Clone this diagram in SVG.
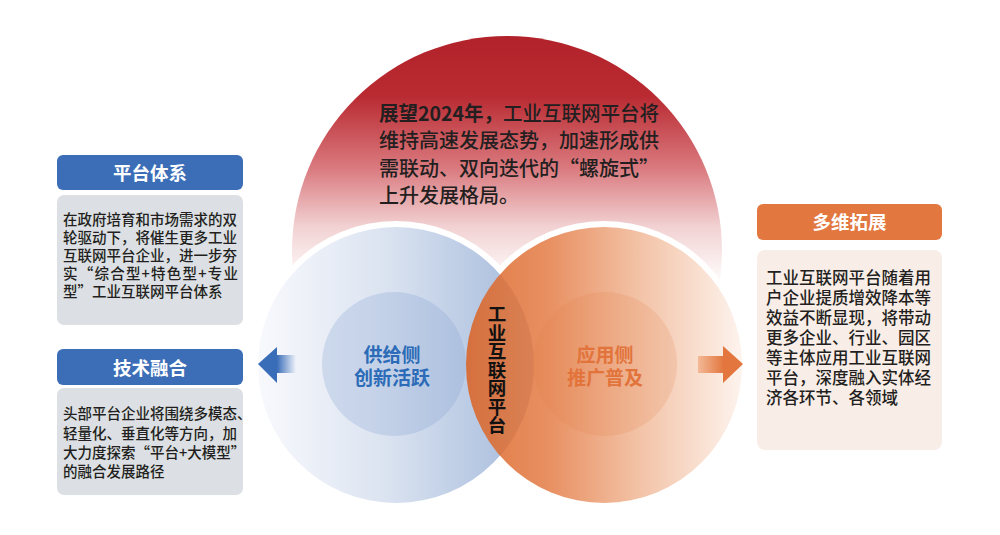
<svg xmlns="http://www.w3.org/2000/svg" width="1000" height="535" viewBox="0 0 1000 535">
<defs>
<style>
text{font-family:"Noto Sans CJK SC","Noto Sans",sans-serif;}
.hdr{font-size:18.5px;font-weight:bold;fill:#ffffff;text-anchor:middle;}
.body{font-size:14.5px;font-weight:500;fill:#231f20;}
.rbody{font-size:16.5px;font-weight:500;fill:#231f20;}
.top{font-size:20px;font-weight:500;fill:#231f20;}
.lbl{font-size:19px;font-weight:bold;text-anchor:middle;}
.vert{font-size:18.5px;font-weight:bold;fill:#111111;writing-mode:vertical-rl;text-orientation:upright;}
</style>
<linearGradient id="gRed" gradientUnits="userSpaceOnUse" x1="0" y1="36" x2="0" y2="275">
<stop offset="0" stop-color="#b1222a"/>
<stop offset="0.25" stop-color="#b92a31"/>
<stop offset="0.55" stop-color="#d9797e"/>
<stop offset="0.8" stop-color="#f2d2d3"/>
<stop offset="1" stop-color="#fdf7f7"/>
</linearGradient>
<linearGradient id="gBlue" gradientUnits="userSpaceOnUse" x1="258" y1="0" x2="534" y2="0">
<stop offset="0" stop-color="#f8f9fd"/>
<stop offset="0.45" stop-color="#dce4f1"/>
<stop offset="1" stop-color="#a3b9db"/>
</linearGradient>
<linearGradient id="gOrange" gradientUnits="userSpaceOnUse" x1="466" y1="0" x2="742" y2="0">
<stop offset="0" stop-color="#df733b"/>
<stop offset="0.3" stop-color="#e78b5b"/>
<stop offset="0.62" stop-color="#f2bfa1"/>
<stop offset="1" stop-color="#fdf3ed"/>
</linearGradient>
<linearGradient id="gArrL" gradientUnits="userSpaceOnUse" x1="277" y1="0" x2="296" y2="0">
<stop offset="0" stop-color="#3a6db8"/>
<stop offset="1" stop-color="#3a6db8" stop-opacity="0"/>
</linearGradient>
<linearGradient id="gArrR" gradientUnits="userSpaceOnUse" x1="698" y1="0" x2="724" y2="0">
<stop offset="0" stop-color="#f3b996"/>
<stop offset="1" stop-color="#e2763e"/>
</linearGradient>
<clipPath id="clipOrange"><circle cx="604" cy="365" r="138"/></clipPath>
</defs>

<g id="outlook">
<circle cx="507" cy="251" r="215" fill="url(#gRed)"/>
<text class="top" x="379" y="121" textLength="280" lengthAdjust="spacingAndGlyphs"><tspan font-weight="bold">展望2024年，</tspan>工业互联网平台将</text>
<text class="top" x="379" y="148.3">维持高速发展态势，加速形成供</text>
<text class="top" x="379" y="175.6">需联动、双向迭代的“螺旋式”</text>
<text class="top" x="379" y="203">上升发展格局。</text>
</g>

<g id="rings">
<circle cx="396" cy="365" r="144" fill="#ffffff"/>
<circle cx="604" cy="365" r="144" fill="#ffffff"/>
</g>

<g id="supply">
<circle cx="396" cy="365" r="138" fill="url(#gBlue)"/>
<circle cx="394" cy="364" r="72" fill="#86a3d2" opacity="0.28"/>
<text class="lbl" x="392" y="362" fill="#2b6bb7">供给侧</text>
<text class="lbl" x="392" y="385" fill="#2b6bb7">创新活跃</text>
</g>

<g id="application">
<circle cx="604" cy="365" r="138" fill="url(#gOrange)" opacity="0.96"/>
<circle cx="396" cy="365" r="138" fill="#8a3a1c" opacity="0.09" clip-path="url(#clipOrange)"/>
<circle cx="605" cy="364" r="72" fill="#e47d47" opacity="0.18"/>
<text class="lbl" x="605" y="362" fill="#e2733b">应用侧</text>
<text class="lbl" x="605" y="385" fill="#e2733b">推广普及</text>
</g>

<g id="platform">
<text class="vert" x="497" y="305">工业互联网平台</text>
</g>

<g id="connectors">
<rect x="276" y="355" width="20" height="18" fill="url(#gArrL)"/>
<polygon points="258,364 277,347 277,383" fill="#3a6db8"/>
<rect x="698" y="356" width="26" height="17" fill="url(#gArrR)"/>
<polygon points="743,364 723,346 723,383" fill="#e2763e"/>
</g>

<g id="platform-system">
<rect x="57" y="155" width="186" height="35" rx="6" fill="#3c6eb8"/>
<text class="hdr" x="150" y="180">平台体系</text>
<rect x="57" y="195" width="186" height="130" rx="7" fill="#dcdfe3"/>
<text class="body" x="63" y="225">在政府培育和市场需求的双</text>
<text class="body" x="63" y="243">轮驱动下，将催生更多工业</text>
<text class="body" x="63" y="261">互联网平台企业，进一步夯</text>
<text class="body" x="63" y="279" textLength="175" lengthAdjust="spacing">实“综合型+特色型+专业</text>
<text class="body" x="63" y="297">型”工业互联网平台体系</text>
</g>

<g id="tech-fusion">
<rect x="57" y="349" width="186" height="36" rx="6" fill="#3c6eb8"/>
<text class="hdr" x="150" y="375">技术融合</text>
<rect x="57" y="388" width="186" height="107" rx="7" fill="#dcdfe3"/>
<text class="body" x="63" y="419">头部平台企业将围绕多模态、</text>
<text class="body" x="63" y="438.5">轻量化、垂直化等方向，加</text>
<text class="body" x="63" y="458">大力度探索“平台+大模型”</text>
<text class="body" x="63" y="477">的融合发展路径</text>
</g>

<g id="multi-expansion">
<rect x="757" y="204" width="185" height="36" rx="6" fill="#e2773f"/>
<text class="hdr" x="849.5" y="229">多维拓展</text>
<rect x="757" y="250" width="185" height="200" rx="8" fill="#f9ede8"/>
<text class="rbody" x="766" y="284">工业互联网平台随着用</text>
<text class="rbody" x="766" y="304">户企业提质增效降本等</text>
<text class="rbody" x="766" y="324">效益不断显现，将带动</text>
<text class="rbody" x="766" y="344">更多企业、行业、园区</text>
<text class="rbody" x="766" y="364">等主体应用工业互联网</text>
<text class="rbody" x="766" y="384">平台，深度融入实体经</text>
<text class="rbody" x="766" y="404">济各环节、各领域</text>
</g>
</svg>
